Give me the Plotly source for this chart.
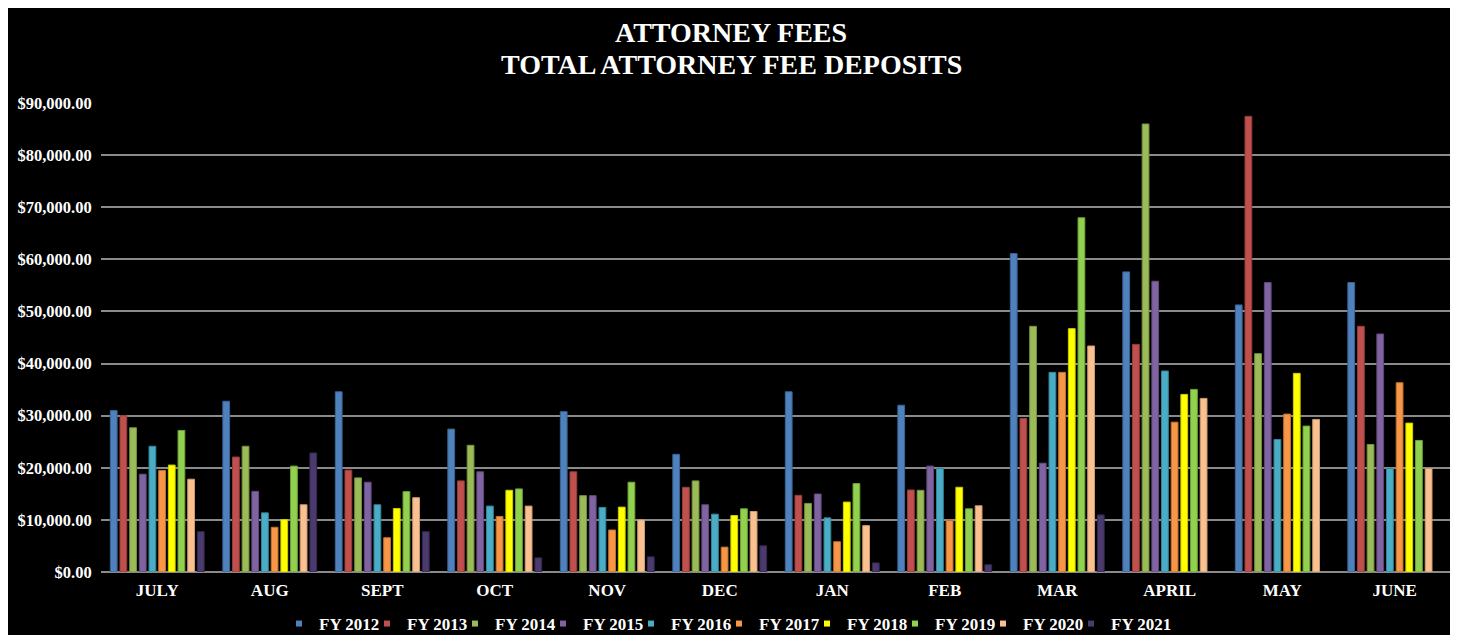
import plotly.graph_objects as go

months = ["JULY", "AUG", "SEPT", "OCT", "NOV", "DEC", "JAN", "FEB", "MAR", "APRIL", "MAY", "JUNE"]
series_names = ["FY 2012", "FY 2013", "FY 2014", "FY 2015", "FY 2016",
                "FY 2017", "FY 2018", "FY 2019", "FY 2020", "FY 2021"]

fy2012 = [30970, 32770, 34580, 27420, 30770, 22580, 34580, 32000, 61110, 57590, 51250, 55540]
fy2013 = [30000, 22060, 19550, 17480, 19230, 16260, 14710, 15740, 29470, 43690, 87440, 47150]
fy2014 = [27680, 24130, 18060, 24320, 14650, 17480, 13160, 15680, 47150, 85970, 41900, 24470]
fy2015 = [18770, 15480, 17230, 19230, 14650, 12900, 14970, 20320, 20880, 55800, 55540, 45680]
fy2016 = [24130, 11350, 12900, 12650, 12390, 11100, 10390, 19870, 38310, 38570, 25430, 19860]
fy2017 = [19480, 8580, 6580, 10650, 8060, 4770, 5810, 9870, 38310, 28760, 30300, 36320]
fy2018 = [20520, 10060, 12190, 15680, 12450, 10840, 13420, 16260, 46700, 34080, 38120, 28570]
fy2019 = [27160, 20320, 15420, 15940, 17230, 12130, 16970, 12130, 67970, 35040, 28000, 25240]
fy2020 = [17810, 12900, 14260, 12650, 10000, 11610, 8900, 12710, 43370, 33310, 29280, 19860]
fy2021 = [7740, 22840, 7740, 2710, 2900, 5030, 1740, 1380, 10950, None, None, None]

series_values = [fy2012, fy2013, fy2014, fy2015, fy2016, fy2017, fy2018, fy2019, fy2020, fy2021]

colors = ["#4F81BD", "#C0504D", "#9BBB59", "#8064A2", "#4BACC6",
          "#F79646", "#FFFF00", "#92D050", "#FAC090", "#4A3A6E"]
edge_colors = ["#3A6496", "#963C3A", "#77913F", "#5F4A7B", "#35859A",
               "#C0732F", "#CCCC00", "#6FA436", "#C99A70", "#352850"]

serif = "Liberation Serif"

# plot-area geometry in figure pixels
L, R, T, B = 93, 15, 95, 71
PW, PH = 1458 - L - R, 635 - T - B

fig = go.Figure()
for name, vals, c, ec in zip(series_names, series_values, colors, edge_colors):
    fig.add_trace(go.Bar(
        x=months, y=vals, name=name, showlegend=False,
        marker=dict(color=c, line=dict(color=ec, width=1)),
    ))
for name, c in zip(series_names, colors):
    fig.add_trace(go.Scatter(
        x=[None], y=[None], mode="markers", name="<b>" + name + "</b>",
        marker=dict(symbol="square", size=6, color=c),
    ))
# spacer entry so the last legend label is not clipped
fig.add_trace(go.Scatter(
    x=[None], y=[None], mode="markers", name=" ", hoverinfo="skip",
    marker=dict(symbol="square", size=6, color="rgba(0,0,0,0)"),
))

fig.update_layout(
    width=1458, height=635,
    paper_bgcolor="black", plot_bgcolor="black",
    margin=dict(l=L, r=R, t=T, b=B, autoexpand=False),
    barmode="group", bargap=0.14, bargroupgap=0.3,
    showlegend=True,
    legend=dict(orientation="h", x=(271 - L) / PW, xanchor="left",
                y=-52 / PH, yanchor="middle",
                font=dict(family=serif, size=17, color="white"),
                itemwidth=30, entrywidth=43, entrywidthmode="pixels",
                bgcolor="rgba(0,0,0,0)", tracegroupgap=0),
    annotations=[
        dict(text="<b>ATTORNEY FEES</b>", xref="paper", yref="paper",
             x=(723 - L) / PW, y=(T + PH - 24) / PH, xanchor="center", yanchor="middle",
             showarrow=False, font=dict(family=serif, size=28, color="white")),
        dict(text="<b>TOTAL ATTORNEY FEE DEPOSITS</b>", xref="paper", yref="paper",
             x=(723 - L) / PW, y=(T + PH - 56) / PH, xanchor="center", yanchor="middle",
             showarrow=False, font=dict(family=serif, size=28, color="white")),
    ],
)
fig.update_xaxes(
    type="category", showgrid=False, showline=False, zeroline=False,
    ticks="outside", ticklen=3, tickcolor="rgba(0,0,0,0)",
    tickfont=dict(family=serif, size=17, color="white"),
    tickprefix="<b>", ticksuffix="</b>",
)
fig.update_yaxes(
    range=[0, 90000], dtick=10000, tickformat="$,.2f",
    showgrid=True, gridcolor="#8a8a8a", gridwidth=2,
    zeroline=True, zerolinecolor="#8a8a8a", zerolinewidth=2,
    showline=False, ticks="outside", ticklen=5, tickcolor="rgba(0,0,0,0)",
    tickfont=dict(family=serif, size=16.5, color="white"),
    tickprefix="<b>", ticksuffix="</b>",
)

fig.write_html("out.html")
